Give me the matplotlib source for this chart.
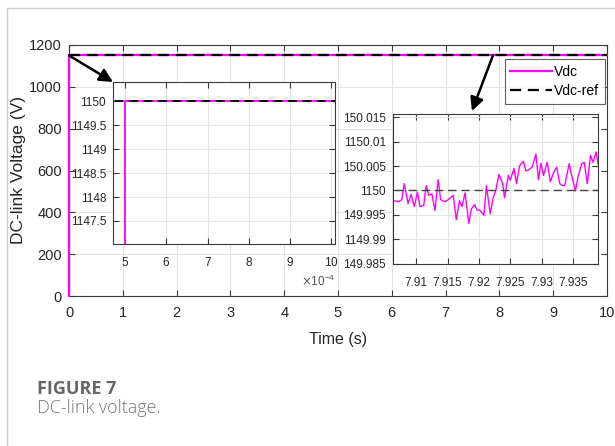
import numpy as np
import matplotlib
matplotlib.use("Agg")
from matplotlib import pyplot as plt
from matplotlib.lines import Line2D
from matplotlib.ticker import FixedLocator, ScalarFormatter, FuncFormatter

# start-up of the DC link (s, V)
t_start = [0.0, 5e-4, 5e-4, 10.0]
vdc_start = [0.0, 0.0, 1150.0, 1150.0]
t_ref = [0.0, 10.0]
vdc_ref = [1150.0, 1150.0]

# ripple around t = 7.92 s (zoomed window)
t_zoom = [7.9064, 7.9072, 7.9077, 7.9081, 7.9087, 7.9092, 7.9097, 7.9102,
          7.9106, 7.9112, 7.9116, 7.9120, 7.9125, 7.9130, 7.9135, 7.9139,
          7.9145, 7.9149, 7.9159, 7.9164, 7.9169, 7.9173, 7.9178, 7.9184,
          7.9188, 7.9193, 7.9197, 7.9202, 7.9208, 7.9212, 7.9218, 7.9223,
          7.9227, 7.9232, 7.9238, 7.9241, 7.9247, 7.9250, 7.9256, 7.9260,
          7.9265, 7.9271, 7.9275, 7.9280, 7.9285, 7.9291, 7.9295, 7.9299,
          7.9303, 7.9309, 7.9314, 7.9318, 7.9324, 7.9329, 7.9333, 7.9337,
          7.9344, 7.9348, 7.9354, 7.9358, 7.9364, 7.9368, 7.9373, 7.9378,
          7.9382, 7.9387, 7.9390]
vdc_zoom = [1149.9979, 1149.9977, 1149.9981, 1150.0014, 1149.9973, 1149.9992,
            1149.9967, 1149.9997, 1149.9967, 1149.9969, 1150.0010, 1149.9990,
            1149.9993, 1149.9959, 1150.0022, 1149.9981, 1149.9977, 1149.9979,
            1149.9990, 1149.9940, 1149.9979, 1149.9967, 1149.9995, 1149.9932,
            1149.9962, 1149.9971, 1149.9960, 1149.9959, 1149.9949, 1150.0010,
            1149.9952, 1149.9986, 1150.0000, 1150.0033, 1150.0014, 1149.9985,
            1150.0031, 1150.0021, 1150.0045, 1150.0014, 1150.0051, 1150.0060,
            1150.0040, 1150.0043, 1150.0048, 1150.0075, 1150.0022, 1150.0056,
            1150.0031, 1150.0058, 1150.0018, 1150.0033, 1150.0048, 1150.0014,
            1150.0010, 1150.0010, 1150.0055, 1150.0031, 1149.9999, 1150.0027,
            1150.0055, 1150.0058, 1150.0014, 1150.0072, 1150.0058, 1150.0079,
            1150.0055]

main_xticks = [0, 1, 2, 3, 4, 5, 6, 7, 8, 9, 10]
main_yticks = [0, 200, 400, 600, 800, 1000, 1200]
ins1_xticks = [5e-4, 6e-4, 7e-4, 8e-4, 9e-4, 10e-4]
ins1_yticks = [1147.5, 1148, 1148.5, 1149, 1149.5, 1150]
ins2_xticks = [7.91, 7.915, 7.92, 7.925, 7.93, 7.935]
ins2_yticks = [1149.985, 1149.99, 1149.995, 1150, 1150.005, 1150.01, 1150.015]
ins2_ylabels = ["149.985", "1149.99", "149.995", "1150", "150.005", "1150.01", "150.015"]

plt.rcParams['font.family'] = ['Liberation Sans', 'DejaVu Sans']
MAG = '#ff00ff'
SPINE = '#3a3a3a'
GRID = '#e4e4e4'

fig = plt.figure(figsize=(6.15, 4.46), dpi=100)
W, H = 615.0, 446.0


def px_axes(l, r, t, b):
    return fig.add_axes([l / W, (H - b) / H, (r - l) / W, (b - t) / H])


def matlab_style(ax, fs, fam=None, pad=5):
    for s in ax.spines.values():
        s.set_color(SPINE)
        s.set_linewidth(0.8)
    ax.tick_params(direction='in', top=True, right=True, length=4, width=0.8,
                   color=SPINE, labelsize=fs, labelcolor='#262626', pad=pad)
    if fam:
        for lab in ax.get_xticklabels() + ax.get_yticklabels():
            lab.set_family(fam)
    ax.grid(True, color=GRID, lw=0.8)
    ax.set_axisbelow(True)


# main axes
ax = px_axes(69, 607, 45, 296)
ax.plot(t_start, vdc_start, color=MAG, lw=1.6, label='Vdc', clip_on=False, zorder=3)
ax.plot(t_ref, vdc_ref, color='black', lw=1.6, dashes=(5, 3), label='Vdc-ref', zorder=3)
ax.set_xlim(0, 10)
ax.set_ylim(0, 1200)
ax.set_xticks(main_xticks)
ax.set_yticks(main_yticks)
matlab_style(ax, 10.5)
ax.tick_params(axis='x', pad=7)
ax.set_xlabel('Time (s)', fontsize=11.5, color='#262626', labelpad=9)
ax.set_ylabel('DC-link Voltage (V)', fontsize=12.5, color='#262626')
ax.yaxis.set_label_coords(-0.08, 0.5)
leg = ax.legend(loc='upper right', bbox_to_anchor=(0.996, 0.944), fontsize=10,
                frameon=True, fancybox=False, borderaxespad=0, handlelength=3.0,
                handletextpad=0.15, borderpad=0.4, labelspacing=0.4)
leg.get_frame().set_edgecolor(SPINE)
leg.get_frame().set_linewidth(0.8)

narrow = ['Liberation Sans Narrow', 'Liberation Sans']

# inset 1: start-up step
ax1 = px_axes(113, 335, 82, 244)
ax1.plot(t_start, vdc_start, color=MAG, lw=1.3)
ax1.plot(t_ref, vdc_ref, color='black', lw=1.3, dashes=(5, 3))
ax1.set_xlim(4.7e-4, 10.1e-4)
ax1.set_ylim(1147.02, 1150.4)
ax1.xaxis.set_major_locator(FixedLocator(ins1_xticks))
ax1.yaxis.set_major_locator(FixedLocator(ins1_yticks))
fmt = ScalarFormatter(useMathText=True)
fmt.set_powerlimits((-4, -4))
ax1.xaxis.set_major_formatter(fmt)
ax1.yaxis.set_major_formatter(FuncFormatter(lambda v, p: '%g' % v))
matlab_style(ax1, 8.5, narrow)
ax1.tick_params(axis='x', pad=9)
ax1.xaxis.get_offset_text().set_fontsize(8.5)
ax1.xaxis.get_offset_text().set_color('#555555')

# inset 2: ripple
ax2 = px_axes(393, 598, 114, 264)
ax2.plot(t_zoom, vdc_zoom, color=MAG, lw=1.0)
ax2.plot(t_ref, vdc_ref, color='#444444', lw=1.0, dashes=(6, 3.5))
ax2.set_xlim(7.9063, 7.9390)
ax2.set_ylim(1149.9849, 1150.0157)
ax2.xaxis.set_major_locator(FixedLocator(ins2_xticks))
ax2.yaxis.set_major_locator(FixedLocator(ins2_yticks))
ax2.set_xticklabels([('%g' % v) for v in ins2_xticks])
ax2.set_yticklabels(ins2_ylabels)
matlab_style(ax2, 8.5, narrow)
ax2.tick_params(axis='x', pad=9)
for a in (ax1, ax2):
    a.set_facecolor('white')

# zoom arrows
arr = dict(arrowstyle='-|>', color='black', lw=1.8, mutation_scale=20,
           shrinkA=0, shrinkB=0)
ax.annotate('', xy=(0, 1), xycoords=ax1, xytext=(0, 1150), textcoords='data',
            arrowprops=arr, annotation_clip=False)
ax.annotate('', xy=(0.385, 1.02), xycoords=ax2, xytext=(7.88, 1150),
            textcoords='data', arrowprops=arr, annotation_clip=False)

# page frame and caption
fig.add_artist(Line2D([7 / W, 7 / W], [0, 1 - 8 / H], color='#cccccc', lw=1))
fig.add_artist(Line2D([7 / W, 1], [1 - 8 / H, 1 - 8 / H], color='#cccccc', lw=1))
fig.text(37 / W, (H - 394) / H, 'FIGURE 7', fontsize=13, fontweight='bold',
         color='#666666', family=['Open Sans', 'DejaVu Sans'], va='baseline')
fig.text(37 / W, (H - 413) / H, 'DC-link voltage.', fontsize=13, fontweight='light',
         color='#777777', family=['Open Sans', 'DejaVu Sans'], va='baseline')

fig.savefig('out.png', dpi=100)
